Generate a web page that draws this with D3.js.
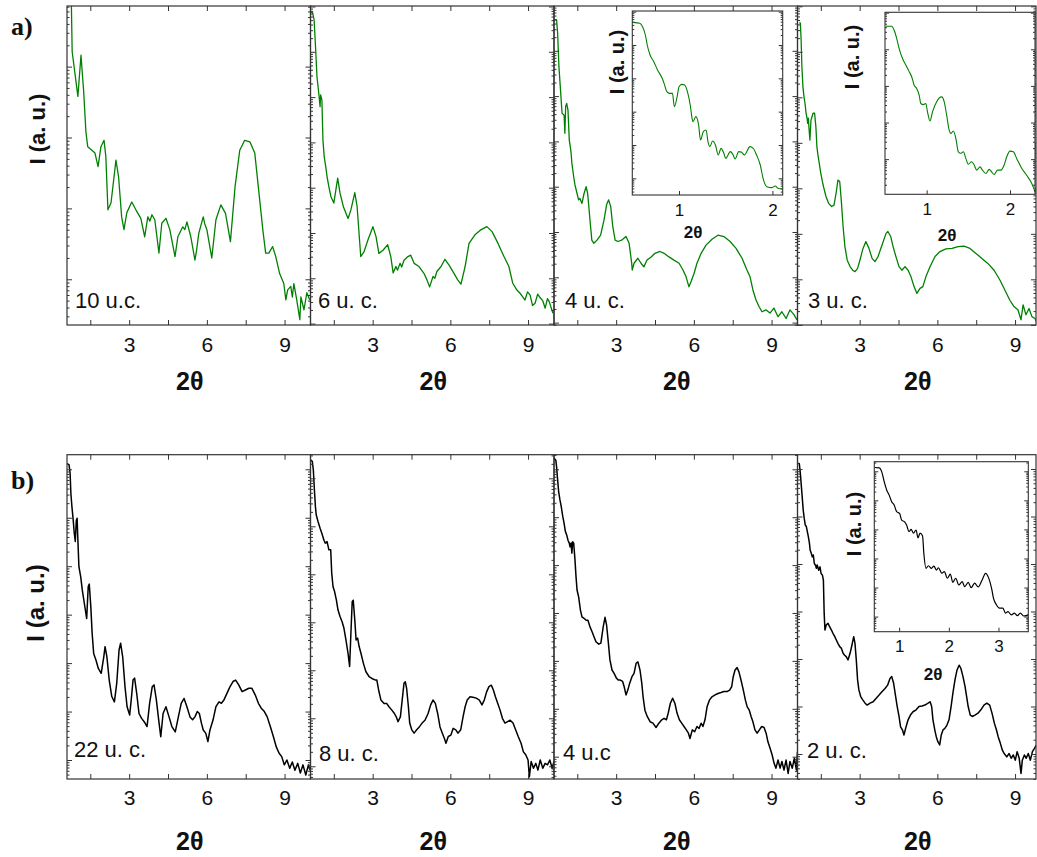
<!DOCTYPE html>
<html><head><meta charset="utf-8">
<script src="https://cdn.jsdelivr.net/npm/d3@7"></script>
<style>body{margin:0;background:#fff}svg{display:block}</style>
</head><body><svg id="c" width="1037" height="857"></svg>
<script>
// ---- data: [2theta, log10 I (a.u.)] ----
const a_10uc=[[0.70,4.30],[0.77,3.85],[0.80,3.21],[1.02,2.58],[1.14,3.16],[1.24,2.67],[1.33,2.08],[1.40,1.87],[1.56,1.82],[1.68,1.78],[1.80,1.59],[1.91,1.87],[2.03,1.96],[2.10,1.73],[2.18,0.98],[2.30,1.08],[2.49,1.68],[2.59,1.45],[2.71,0.88],[2.80,0.70],[2.91,0.94],[3.10,1.09],[3.26,0.98],[3.45,0.86],[3.60,0.60],[3.72,0.88],[3.80,0.82],[3.88,0.91],[3.99,0.84],[4.15,0.37],[4.26,0.79],[4.42,0.86],[4.57,0.70],[4.77,0.32],[4.88,0.60],[5.07,0.74],[5.15,0.70],[5.23,0.81],[5.38,0.60],[5.54,0.27],[5.60,0.40],[5.69,0.65],[5.86,0.88],[5.92,0.78],[6.00,0.70],[6.19,0.30],[6.35,0.84],[6.54,1.05],[6.72,0.93],[6.91,0.53],[7.09,1.31],[7.27,1.82],[7.46,1.96],[7.66,1.94],[7.85,1.78],[8.04,1.12],[8.16,0.70],[8.27,0.37],[8.39,0.37],[8.54,0.46],[8.66,0.32],[8.81,0.08],[8.97,-0.06],[9.05,-0.29],[9.12,-0.15],[9.24,-0.10],[9.30,-0.25],[9.36,-0.06],[9.47,-0.29],[9.59,-0.57],[9.63,-0.25],[9.75,-0.43],[9.86,-0.19],[9.97,-0.29]];
const a_6uc=[[0.62,5.87],[0.68,5.87],[0.74,5.70],[0.80,5.04],[0.85,4.45],[0.92,4.08],[0.97,3.79],[0.99,4.05],[1.04,3.94],[1.08,3.05],[1.13,2.68],[1.19,2.46],[1.24,2.24],[1.31,2.02],[1.39,1.80],[1.50,1.66],[1.65,2.21],[1.74,1.88],[1.87,1.58],[2.05,1.32],[2.16,1.51],[2.31,1.89],[2.40,1.58],[2.54,0.48],[2.67,0.59],[2.82,0.85],[3.01,1.14],[3.13,0.92],[3.24,0.55],[3.40,0.62],[3.58,0.74],[3.70,0.48],[3.79,0.12],[3.90,0.26],[3.96,0.18],[4.06,0.33],[4.12,0.25],[4.21,0.40],[4.36,0.48],[4.47,0.51],[4.60,0.33],[4.79,0.26],[4.98,0.11],[5.10,-0.04],[5.20,-0.19],[5.33,0.04],[5.40,0.00],[5.48,0.15],[5.64,0.26],[5.79,0.42],[5.95,0.29],[6.14,0.11],[6.29,-0.04],[6.41,-0.13],[6.57,0.26],[6.72,0.77],[6.95,0.96],[7.18,1.07],[7.41,1.14],[7.61,1.03],[7.84,0.77],[8.07,0.48],[8.26,0.26],[8.41,-0.11],[8.57,-0.26],[8.69,-0.33],[8.78,-0.40],[8.88,-0.48],[8.98,-0.30],[9.08,-0.37],[9.17,-0.60],[9.27,-0.55],[9.37,-0.35],[9.47,-0.43],[9.57,-0.50],[9.66,-0.66],[9.75,-0.45],[9.82,-0.52],[9.96,-0.77]];
const a_4uc=[[0.61,5.68],[0.70,5.68],[0.74,5.39],[0.79,4.65],[0.86,4.06],[0.91,3.62],[0.99,3.58],[1.02,3.18],[1.05,3.77],[1.09,3.84],[1.14,3.69],[1.19,3.03],[1.23,2.88],[1.26,2.74],[1.29,2.52],[1.36,2.22],[1.41,2.04],[1.49,1.85],[1.55,1.71],[1.60,1.74],[1.68,1.63],[1.76,1.85],[1.84,2.00],[1.90,1.85],[1.99,1.26],[2.06,0.82],[2.14,0.75],[2.26,0.82],[2.40,0.93],[2.53,1.26],[2.63,1.60],[2.71,1.71],[2.79,1.56],[2.87,1.12],[2.96,0.82],[3.07,0.79],[3.21,0.82],[3.38,0.90],[3.50,0.75],[3.60,0.31],[3.62,0.16],[3.69,0.31],[3.84,0.42],[3.96,0.31],[4.07,0.23],[4.19,0.38],[4.35,0.45],[4.50,0.53],[4.69,0.57],[4.85,0.53],[5.04,0.45],[5.23,0.38],[5.43,0.31],[5.58,0.16],[5.70,0.01],[5.81,-0.21],[5.89,-0.10],[6.01,0.09],[6.12,0.31],[6.28,0.53],[6.47,0.71],[6.70,0.84],[6.93,0.93],[7.16,0.90],[7.40,0.79],[7.63,0.64],[7.86,0.42],[8.05,0.16],[8.17,0.01],[8.28,-0.28],[8.40,-0.50],[8.52,-0.65],[8.63,-0.76],[8.79,-0.72],[8.94,-0.79],[9.09,-0.68],[9.25,-0.87],[9.40,-0.76],[9.56,-0.91],[9.71,-0.72],[9.87,-0.83],[9.98,-0.94]];
const a_3uc=[[0.67,5.64],[0.71,5.63],[0.74,5.26],[0.77,4.67],[0.81,4.23],[0.85,4.01],[0.89,3.87],[0.93,3.65],[0.97,3.54],[0.99,3.43],[1.02,3.54],[1.04,3.35],[1.08,3.06],[1.12,3.50],[1.20,3.65],[1.26,3.65],[1.31,3.35],[1.35,2.91],[1.39,2.73],[1.44,2.55],[1.50,2.33],[1.56,2.15],[1.62,2.00],[1.70,1.82],[1.80,1.67],[1.92,1.60],[2.01,1.63],[2.10,1.93],[2.16,2.18],[2.23,2.15],[2.29,1.74],[2.36,1.16],[2.43,0.72],[2.52,0.42],[2.63,0.28],[2.73,0.20],[2.82,0.17],[2.92,0.24],[3.01,0.42],[3.13,0.68],[3.24,0.83],[3.36,0.68],[3.48,0.46],[3.59,0.39],[3.71,0.50],[3.86,0.75],[4.02,1.01],[4.09,1.05],[4.20,0.94],[4.29,0.72],[4.40,0.50],[4.52,0.28],[4.63,0.20],[4.75,0.28],[4.87,0.20],[4.98,0.06],[5.10,-0.16],[5.21,-0.31],[5.33,-0.20],[5.44,-0.16],[5.56,0.06],[5.72,0.28],[5.91,0.50],[6.10,0.61],[6.33,0.67],[6.57,0.68],[6.80,0.72],[7.03,0.73],[7.26,0.68],[7.49,0.57],[7.72,0.46],[7.95,0.35],[8.19,0.20],[8.42,-0.02],[8.61,-0.24],[8.80,-0.46],[8.96,-0.60],[9.11,-0.67],[9.23,-0.89],[9.31,-0.56],[9.42,-0.78],[9.54,-0.64],[9.65,-0.82],[9.77,-0.86],[9.83,-0.93]];
const b_22uc=[[0.61,6.12],[0.68,6.09],[0.72,5.92],[0.75,5.50],[0.79,5.23],[0.84,4.95],[0.88,4.68],[0.92,4.51],[0.96,4.95],[0.99,4.99],[1.02,4.54],[1.06,3.99],[1.13,3.78],[1.19,3.51],[1.27,3.23],[1.36,2.92],[1.42,3.58],[1.46,3.63],[1.52,3.16],[1.57,2.62],[1.63,2.20],[1.72,2.06],[1.81,1.89],[1.92,1.79],[2.02,2.13],[2.07,2.34],[2.14,2.13],[2.23,1.65],[2.33,1.31],[2.43,1.20],[2.52,1.58],[2.61,2.27],[2.67,2.41],[2.75,2.13],[2.84,1.51],[2.92,1.10],[3.02,0.93],[3.08,1.24],[3.15,1.65],[3.21,1.69],[3.29,1.38],[3.38,0.96],[3.48,0.86],[3.58,0.79],[3.69,0.69],[3.79,1.17],[3.89,1.51],[3.96,1.55],[4.05,1.24],[4.14,0.83],[4.22,0.48],[4.31,0.96],[4.42,1.10],[4.54,0.89],[4.65,0.69],[4.78,0.58],[4.90,0.89],[5.01,1.17],[5.12,1.27],[5.23,1.10],[5.35,0.89],[5.45,0.83],[5.54,0.89],[5.63,1.00],[5.71,0.96],[5.79,0.76],[5.86,0.62],[5.96,0.55],[6.04,0.38],[6.12,0.62],[6.24,0.83],[6.35,1.10],[6.47,1.20],[6.56,1.17],[6.66,1.24],[6.78,1.38],[6.89,1.51],[7.01,1.62],[7.11,1.65],[7.23,1.55],[7.36,1.41],[7.47,1.44],[7.62,1.48],[7.74,1.48],[7.87,1.34],[7.99,1.17],[8.10,1.07],[8.22,1.00],[8.33,0.89],[8.45,0.69],[8.57,0.48],[8.68,0.27],[8.79,0.14],[8.89,0.07],[8.99,-0.10],[9.09,0.00],[9.20,-0.17],[9.30,-0.04],[9.40,-0.21],[9.51,-0.07],[9.61,-0.27],[9.71,-0.10],[9.82,-0.31],[9.92,-0.10],[9.99,-0.21]];
const b_8uc=[[0.62,5.38],[0.67,5.35],[0.71,5.17],[0.75,4.76],[0.79,4.41],[0.82,4.24],[0.89,4.10],[0.97,3.96],[1.04,3.85],[1.12,3.71],[1.17,3.65],[1.24,3.68],[1.31,3.51],[1.38,3.51],[1.42,3.02],[1.47,2.74],[1.53,2.64],[1.60,2.46],[1.66,2.26],[1.74,2.12],[1.82,2.01],[1.89,1.88],[1.97,1.63],[2.05,1.35],[2.11,1.08],[2.16,1.77],[2.21,2.43],[2.25,2.46],[2.31,2.05],[2.36,1.63],[2.42,1.67],[2.48,1.49],[2.55,1.35],[2.64,1.15],[2.74,0.97],[2.86,0.87],[2.97,0.83],[3.09,0.80],[3.16,0.80],[3.23,0.59],[3.32,0.38],[3.44,0.31],[3.54,0.31],[3.63,0.24],[3.74,0.17],[3.84,0.10],[3.91,0.03],[3.98,-0.07],[4.07,0.03],[4.14,0.38],[4.21,0.73],[4.26,0.76],[4.31,0.63],[4.38,0.24],[4.43,-0.10],[4.51,-0.24],[4.60,-0.31],[4.70,-0.24],[4.80,-0.18],[4.91,-0.10],[5.02,-0.04],[5.14,0.10],[5.24,0.28],[5.33,0.38],[5.42,0.31],[5.51,0.10],[5.60,-0.18],[5.69,-0.31],[5.77,-0.42],[5.83,-0.52],[5.92,-0.38],[6.02,-0.35],[6.11,-0.21],[6.21,-0.24],[6.29,-0.31],[6.40,-0.24],[6.49,0.03],[6.57,0.24],[6.65,0.38],[6.76,0.45],[6.87,0.44],[7.00,0.42],[7.12,0.38],[7.22,0.28],[7.31,0.38],[7.40,0.55],[7.49,0.66],[7.58,0.69],[7.66,0.59],[7.74,0.45],[7.83,0.31],[7.92,0.17],[8.01,0.00],[8.11,-0.10],[8.21,-0.07],[8.31,-0.04],[8.42,-0.10],[8.52,-0.24],[8.62,-0.38],[8.73,-0.52],[8.82,-0.70],[8.91,-0.76],[9.00,-0.87],[9.05,-1.22],[9.12,-0.90],[9.21,-1.04],[9.30,-0.94],[9.38,-1.08],[9.47,-0.87],[9.57,-1.04],[9.66,-0.94],[9.75,-0.97],[9.84,-0.87],[9.93,-1.04],[10.0,-0.90]];
const b_4uc=[[0.60,6.23],[0.67,6.19],[0.70,6.05],[0.74,5.78],[0.78,5.53],[0.83,5.36],[0.88,5.22],[0.94,5.01],[0.99,4.87],[1.04,4.70],[1.09,4.63],[1.14,4.52],[1.19,4.46],[1.22,4.38],[1.26,4.46],[1.29,4.25],[1.32,4.49],[1.36,4.46],[1.41,4.11],[1.45,3.76],[1.49,3.48],[1.55,3.34],[1.62,3.06],[1.68,2.92],[1.76,2.89],[1.84,2.85],[1.91,2.85],[1.99,2.71],[2.07,2.61],[2.14,2.51],[2.22,2.40],[2.33,2.35],[2.41,2.37],[2.50,2.71],[2.57,2.91],[2.63,2.75],[2.70,2.37],[2.76,2.02],[2.84,1.81],[2.92,1.74],[3.01,1.64],[3.08,1.60],[3.16,1.60],[3.25,1.57],[3.31,1.46],[3.38,1.29],[3.45,1.39],[3.52,1.53],[3.61,1.67],[3.69,1.74],[3.77,1.95],[3.84,1.98],[3.92,1.81],[3.99,1.53],[4.04,1.25],[4.11,0.97],[4.20,0.84],[4.31,0.73],[4.42,0.70],[4.54,0.61],[4.65,0.70],[4.76,0.77],[4.85,0.80],[4.94,0.77],[5.01,0.91],[5.09,1.11],[5.18,1.22],[5.27,1.11],[5.35,0.91],[5.44,0.77],[5.53,0.70],[5.62,0.63],[5.71,0.56],[5.79,0.49],[5.85,0.38],[5.94,0.56],[6.03,0.52],[6.12,0.63],[6.20,0.59],[6.28,0.70],[6.35,0.63],[6.43,0.77],[6.51,1.04],[6.60,1.18],[6.70,1.25],[6.82,1.29],[6.93,1.32],[7.05,1.34],[7.16,1.36],[7.28,1.36],[7.38,1.39],[7.46,1.46],[7.52,1.67],[7.59,1.81],[7.67,1.86],[7.74,1.77],[7.82,1.60],[7.91,1.39],[7.99,1.18],[8.06,1.04],[8.14,0.97],[8.21,0.84],[8.28,0.73],[8.36,0.56],[8.44,0.49],[8.53,0.56],[8.62,0.63],[8.71,0.61],[8.79,0.49],[8.86,0.31],[8.94,0.18],[9.02,0.04],[9.10,-0.14],[9.17,-0.24],[9.25,-0.07],[9.33,-0.24],[9.40,-0.10],[9.48,-0.28],[9.56,-0.07],[9.64,-0.35],[9.71,-0.10],[9.80,-0.24],[9.88,-0.03],[9.96,-0.28],[10.0,0.10]];
const b_2uc=[[0.63,6.12],[0.67,6.11],[0.71,5.91],[0.75,5.63],[0.79,5.35],[0.82,5.14],[0.86,4.96],[0.90,4.82],[0.94,4.79],[0.98,4.68],[1.02,4.57],[1.06,4.44],[1.09,4.29],[1.13,4.23],[1.17,4.15],[1.21,4.19],[1.25,4.01],[1.29,3.98],[1.33,3.91],[1.36,3.98],[1.42,3.87],[1.47,3.94],[1.51,3.80],[1.56,3.77],[1.60,3.66],[1.63,2.96],[1.66,2.61],[1.71,2.72],[1.78,2.75],[1.84,2.68],[1.91,2.61],[1.97,2.54],[2.04,2.47],[2.10,2.40],[2.16,2.33],[2.23,2.26],[2.29,2.23],[2.36,2.12],[2.42,2.08],[2.48,2.05],[2.55,1.98],[2.63,2.12],[2.70,2.29],[2.77,2.47],[2.82,2.33],[2.87,1.98],[2.92,1.56],[2.97,1.35],[3.04,1.21],[3.12,1.14],[3.21,1.07],[3.29,1.03],[3.40,1.07],[3.52,1.10],[3.63,1.17],[3.75,1.24],[3.86,1.31],[3.98,1.38],[4.08,1.45],[4.17,1.59],[4.24,1.63],[4.31,1.49],[4.39,1.21],[4.45,1.00],[4.52,0.79],[4.58,0.57],[4.65,0.51],[4.71,0.40],[4.79,0.57],[4.87,0.72],[4.96,0.82],[5.06,0.89],[5.18,0.93],[5.29,1.00],[5.41,1.01],[5.52,1.03],[5.64,1.07],[5.72,1.10],[5.78,1.00],[5.83,0.72],[5.90,0.51],[5.96,0.36],[6.02,0.26],[6.09,0.19],[6.15,0.40],[6.22,0.51],[6.29,0.54],[6.37,0.61],[6.45,0.72],[6.53,1.00],[6.60,1.28],[6.68,1.56],[6.76,1.77],[6.84,1.87],[6.91,1.80],[6.99,1.63],[7.07,1.42],[7.13,1.21],[7.19,1.00],[7.27,0.82],[7.35,0.79],[7.45,0.82],[7.57,0.86],[7.68,0.93],[7.80,1.03],[7.91,1.07],[8.02,1.03],[8.11,0.86],[8.20,0.65],[8.28,0.51],[8.35,0.36],[8.43,0.23],[8.51,0.08],[8.58,0.01],[8.68,-0.06],[8.77,0.01],[8.85,-0.09],[8.93,-0.02],[9.01,-0.13],[9.08,0.05],[9.16,-0.09],[9.23,-0.41],[9.28,-0.13],[9.36,-0.02],[9.43,-0.09],[9.51,0.01],[9.59,-0.13],[9.67,0.05],[9.75,0.12],[9.82,0.19]];
// insets
const ins_a4uc=[[0.51,4.68],[0.58,4.65],[0.61,4.55],[0.64,4.30],[0.66,4.00],[0.69,3.70],[0.73,3.50],[0.77,3.25],[0.82,3.00],[0.84,2.85],[0.87,2.60],[0.90,2.55],[0.93,2.55],[0.95,2.15],[0.98,2.45],[1.00,2.75],[1.03,2.82],[1.06,2.80],[1.09,2.60],[1.12,2.20],[1.14,1.80],[1.15,1.70],[1.18,1.85],[1.21,1.60],[1.23,1.15],[1.26,1.40],[1.29,1.45],[1.31,1.10],[1.33,0.95],[1.36,1.12],[1.39,1.00],[1.42,0.70],[1.45,0.90],[1.48,0.75],[1.50,0.60],[1.55,0.80],[1.58,0.70],[1.60,0.58],[1.64,0.80],[1.67,0.78],[1.70,0.70],[1.76,0.95],[1.80,0.88],[1.83,0.70],[1.87,0.40],[1.90,0.00],[1.94,-0.25],[1.99,-0.28],[2.03,-0.23],[2.06,-0.30],[2.11,-0.32]];
const ins_a3uc=[[0.51,3.63],[0.58,3.63],[0.61,3.52],[0.64,3.30],[0.67,3.02],[0.71,2.75],[0.75,2.57],[0.79,2.39],[0.82,2.25],[0.85,2.02],[0.88,1.93],[0.91,1.75],[0.93,1.52],[0.96,1.49],[0.99,1.52],[1.01,1.29],[1.04,1.04],[1.07,1.29],[1.12,1.57],[1.18,1.70],[1.21,1.57],[1.24,1.20],[1.27,0.79],[1.29,0.70],[1.32,0.77],[1.35,0.57],[1.38,0.20],[1.41,0.16],[1.44,0.20],[1.47,0.02],[1.50,-0.14],[1.54,-0.07],[1.57,-0.16],[1.60,-0.30],[1.64,-0.21],[1.67,-0.30],[1.71,-0.39],[1.75,-0.28],[1.78,-0.35],[1.81,-0.42],[1.85,-0.30],[1.89,-0.30],[1.93,-0.16],[1.96,0.06],[2.00,0.22],[2.04,0.20],[2.08,0.02],[2.14,-0.25],[2.20,-0.44],[2.26,-0.66],[2.30,-0.89]];
const ins_b2uc=[[0.51,5.13],[0.60,5.12],[0.65,4.98],[0.70,4.64],[0.75,4.35],[0.80,4.18],[0.85,3.95],[0.90,3.84],[0.95,3.61],[1.01,3.55],[1.05,3.32],[1.11,3.26],[1.15,3.15],[1.20,2.92],[1.24,3.00],[1.29,2.87],[1.34,2.98],[1.38,2.71],[1.42,2.87],[1.47,2.78],[1.50,2.12],[1.54,1.66],[1.59,1.75],[1.65,1.66],[1.70,1.74],[1.75,1.60],[1.79,1.68],[1.86,1.49],[1.91,1.55],[1.97,1.32],[2.03,1.46],[2.08,1.18],[2.14,1.32],[2.20,1.09],[2.27,1.20],[2.32,1.03],[2.39,1.18],[2.45,1.00],[2.52,1.15],[2.59,1.02],[2.67,1.26],[2.74,1.49],[2.80,1.34],[2.86,0.98],[2.90,0.63],[2.96,0.40],[3.02,0.29],[3.09,0.29],[3.14,0.12],[3.19,0.17],[3.26,0.06],[3.32,0.12],[3.38,0.03],[3.44,0.12],[3.51,0.02],[3.60,0.06]];

const xTickLabels=[3,6,9];
const xTicksAll=[1.5,3,4.5,6,7.5,9];
const panelLabels=["10 u.c.","6 u. c.","4 u. c.","3 u. c.","22 u. c.","8 u. c.","4 u.c","2 u. c."];
const rowLetters=["a)","b)"];

// ---- layout ----
const GREEN="#008000", BLACK="#000", AX="#333";
const colLeft=[67,310.5,554,797.5];
const colRight=[310.5,554,797.5,1036];
const rows=[{top:6,bottom:325,color:GREEN,lw:1.3,tickBase:351.5,titleBase:390,ylab:{x:45,y:129,fs:22}},
            {top:454.7,bottom:779,color:BLACK,lw:1.5,tickBase:804.5,titleBase:850,ylab:{x:43.5,y:603,fs:24}}];
const mainPanels=[
 {row:0,col:0,data:a_10uc,lo:-0.645,hi:3.855,lx:75,ly:308},
 {row:0,col:1,data:a_6uc,lo:-1.031,hi:6.011,lx:318,ly:308},
 {row:0,col:2,data:a_4uc,lo:-1.053,hi:5.989,lx:565,ly:308},
 {row:0,col:3,data:a_3uc,lo:-1.004,hi:6.007,lx:808,ly:308},
 {row:1,col:0,data:b_22uc,lo:-0.392,hi:6.301,lx:74,ly:757},
 {row:1,col:1,data:b_8uc,lo:-1.265,hi:5.492,lx:319,ly:761},
 {row:1,col:2,data:b_4uc,lo:-0.466,hi:6.305,lx:563,ly:760},
 {row:1,col:3,data:b_2uc,lo:-0.526,hi:6.301,lx:807,ly:758},
];
const insets=[
 {x0:632.3,x1:782.7,y0:11,y1:195,xd:[0.5,2.11],lo:-0.5,hi:5.02,data:ins_a4uc,color:GREEN,lw:1.1,xt:[1,2],yl:{x:624,y:62},xl:{x:693,y:238}},
 {x0:885,x1:1035,y0:12.3,y1:194.3,xd:[0.5,2.3],lo:-0.96,hi:4.01,data:ins_a3uc,color:GREEN,lw:1.1,xt:[1,2],yl:{x:859,y:57},xl:{x:947,y:241}},
 {x0:874.3,x1:1028.3,y0:461.7,y1:631.7,xd:[0.5,3.6],lo:-0.52,hi:5.33,data:ins_b2uc,color:BLACK,lw:1.2,xt:[1,2,3],yl:{x:861,y:524},xl:{x:933,y:680}},
];
const PXU=25.9;

const svg=d3.select("#c");
svg.append("rect").attr("width",1037).attr("height",857).attr("fill","#fff");
const defs=svg.append("defs");

function logTicks(lo,hi){const maj=[],min=[];for(let k=Math.floor(lo);k<=Math.ceil(hi);k++){for(let m=1;m<10;m++){const e=k+Math.log10(m);if(e>=lo-1e-9&&e<=hi+1e-9)(m===1?maj:min).push(m*Math.pow(10,k));}}return {maj,min};}
function styleAxis(g){g.select(".domain").remove();g.selectAll(".tick line").attr("stroke",AX).attr("stroke-width",1);g.selectAll(".tick text").remove();}

function yAxes(g,y,x0,x1,lo,hi,lm,lmin){
  const t=logTicks(lo,hi);
  g.append("g").attr("transform",`translate(${x0},0)`).call(d3.axisLeft(y).tickValues(t.maj).tickSize(-lm)).call(styleAxis);
  g.append("g").attr("transform",`translate(${x0},0)`).call(d3.axisLeft(y).tickValues(t.min).tickSize(-lmin)).call(styleAxis);
  g.append("g").attr("transform",`translate(${x1},0)`).call(d3.axisRight(y).tickValues(t.maj).tickSize(-lm)).call(styleAxis);
  g.append("g").attr("transform",`translate(${x1},0)`).call(d3.axisRight(y).tickValues(t.min).tickSize(-lmin)).call(styleAxis);
}

mainPanels.forEach((p,i)=>{
  const r=rows[p.row];
  const x0=colLeft[p.col], x1=colRight[p.col];
  const x=d3.scaleLinear().domain([0.6,0.6+(x1-x0)/PXU]).range([x0,x1]);
  const y=d3.scaleLog().domain([Math.pow(10,p.lo),Math.pow(10,p.hi)]).range([r.bottom,r.top]);
  const g=svg.append("g");
  const cid="clip"+i;
  defs.append("clipPath").attr("id",cid).append("rect").attr("x",x0).attr("y",r.top).attr("width",x1-x0).attr("height",r.bottom-r.top);
  const line=d3.line().x(d=>x(d[0])).y(d=>y(Math.pow(10,d[1])));
  g.append("path").attr("clip-path",`url(#${cid})`).attr("d",line(p.data)).attr("fill","none").attr("stroke",r.color).attr("stroke-width",r.lw).attr("stroke-linejoin","round");
  yAxes(g,y,x0,x1,p.lo,p.hi,5,2.5);
  g.append("g").attr("transform",`translate(0,${r.top})`).call(d3.axisTop(x).tickValues(xTicksAll).tickSize(-5)).call(styleAxis);
  g.append("g").attr("transform",`translate(0,${r.bottom})`).call(d3.axisBottom(x).tickValues(xTicksAll).tickSize(-5)).call(styleAxis);
  // tick labels via axis
  const lab=g.append("g").attr("transform",`translate(0,${r.bottom})`).call(d3.axisBottom(x).tickValues(xTickLabels).tickSize(0).tickFormat(d3.format("d")));
  lab.select(".domain").remove();
  lab.selectAll("text").attr("dy",null).attr("y",r.tickBase-r.bottom).attr("font-family","'Liberation Sans',Arial,sans-serif").attr("font-size",21).attr("fill","#111");
  g.append("rect").attr("x",x0).attr("y",r.top).attr("width",x1-x0).attr("height",r.bottom-r.top).attr("fill","none").attr("stroke",AX).attr("stroke-width",1.2);
  g.append("text").attr("x",p.lx).attr("y",p.ly).text(panelLabels[i]).attr("font-family","'Liberation Sans',Arial,sans-serif").attr("font-size",22).attr("fill","#111");
  g.append("text").attr("x",(x0+x1)/2+1).attr("y",r.titleBase).attr("text-anchor","middle").text("2θ").attr("font-family","'Liberation Sans',Arial,sans-serif").attr("font-weight","bold").attr("font-size",25).attr("fill","#111");
});

rows.forEach((r,i)=>{
  svg.append("text").attr("transform",`translate(${r.ylab.x},${r.ylab.y}) rotate(-90)`).attr("text-anchor","middle").text("I (a. u.)")
    .attr("font-family","'Liberation Sans',Arial,sans-serif").attr("font-weight","bold").attr("font-size",r.ylab.fs).attr("fill","#111");
});
svg.append("text").attr("x",11).attr("y",35).text(rowLetters[0]).attr("font-family","'Liberation Serif','DejaVu Serif',serif").attr("font-weight","bold").attr("font-size",26).attr("fill","#111");
svg.append("text").attr("x",11).attr("y",489).text(rowLetters[1]).attr("font-family","'Liberation Serif','DejaVu Serif',serif").attr("font-weight","bold").attr("font-size",26).attr("fill","#111");

insets.forEach((s,i)=>{
  const x=d3.scaleLinear().domain(s.xd).range([s.x0,s.x1]);
  const y=d3.scaleLog().domain([Math.pow(10,s.lo),Math.pow(10,s.hi)]).range([s.y1,s.y0]);
  const g=svg.append("g");
  g.append("rect").attr("x",s.x0).attr("y",s.y0).attr("width",s.x1-s.x0).attr("height",s.y1-s.y0).attr("fill","#fff");
  const cid="iclip"+i;
  defs.append("clipPath").attr("id",cid).append("rect").attr("x",s.x0).attr("y",s.y0).attr("width",s.x1-s.x0).attr("height",s.y1-s.y0);
  const line=d3.line().curve(d3.curveMonotoneX).x(d=>x(d[0])).y(d=>y(Math.pow(10,d[1])));
  g.append("path").attr("clip-path",`url(#${cid})`).attr("d",line(s.data)).attr("fill","none").attr("stroke",s.color).attr("stroke-width",s.lw);
  yAxes(g,y,s.x0,s.x1,s.lo,s.hi,4,2);
  g.append("g").attr("transform",`translate(0,${s.y1})`).call(d3.axisBottom(x).tickValues(s.xt).tickSize(-4)).call(styleAxis);
  const lab=g.append("g").attr("transform",`translate(0,${s.y1})`).call(d3.axisBottom(x).tickValues(s.xt).tickSize(0).tickFormat(d3.format("d")));
  lab.select(".domain").remove();
  lab.selectAll("text").attr("dy",null).attr("y",20.5).attr("font-family","'Liberation Sans',Arial,sans-serif").attr("font-size",17).attr("fill","#111");
  g.append("rect").attr("x",s.x0).attr("y",s.y0).attr("width",s.x1-s.x0).attr("height",s.y1-s.y0).attr("fill","none").attr("stroke",AX).attr("stroke-width",1.1);
  g.append("text").attr("x",s.xl.x).attr("y",s.xl.y).attr("text-anchor","middle").text("2θ").attr("font-family","'Liberation Sans',Arial,sans-serif").attr("font-weight","bold").attr("font-size",17).attr("fill","#111");
  g.append("text").attr("transform",`translate(${s.yl.x},${s.yl.y}) rotate(-90)`).attr("text-anchor","middle").text("I (a. u.)").attr("font-family","'Liberation Sans',Arial,sans-serif").attr("font-weight","bold").attr("font-size",20).attr("fill","#111");
});
</script></body></html>
